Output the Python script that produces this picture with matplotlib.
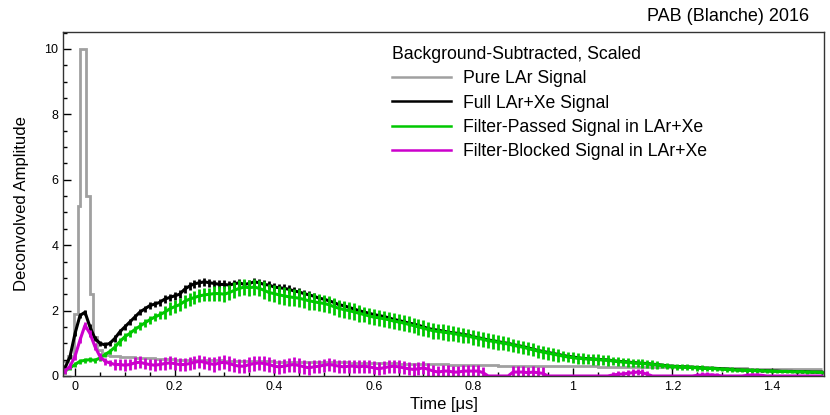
import numpy as np
import matplotlib
matplotlib.use('Agg')
import matplotlib.pyplot as plt
from matplotlib.lines import Line2D
from matplotlib.ticker import MultipleLocator, FuncFormatter

plt.rcParams['font.family'] = ['Liberation Sans', 'DejaVu Sans']

# time bins (us), one every 0.01 from -0.02 to 1.50
time_us = np.arange(153) * 0.01 - 0.02

# Full LAr+Xe signal
full_sig = [0.25, 0.6, 1.3, 1.85, 1.95, 1.5, 1.15, 1.0, 0.95, 1.0,
            1.15, 1.35, 1.5, 1.65, 1.8, 1.95, 2.05, 2.15, 2.2, 2.25,
            2.35, 2.4, 2.45, 2.5, 2.65, 2.75, 2.82, 2.85, 2.88, 2.85,
            2.83, 2.8, 2.8, 2.78, 2.82, 2.85, 2.8, 2.83, 2.88, 2.85,
            2.8, 2.78, 2.72, 2.7, 2.68, 2.65, 2.6, 2.57, 2.52, 2.48,
            2.44, 2.38, 2.35, 2.3, 2.25, 2.18, 2.15, 2.1, 2.05, 2.0,
            1.96, 1.92, 1.88, 1.85, 1.82, 1.78, 1.73, 1.7, 1.66, 1.62,
            1.59, 1.55, 1.5, 1.45, 1.42, 1.4, 1.37, 1.34, 1.32, 1.3,
            1.27, 1.25, 1.2, 1.17, 1.14, 1.1, 1.08, 1.05, 1.02, 1.0,
            0.96, 0.93, 0.9, 0.86, 0.82, 0.78, 0.75, 0.72, 0.69, 0.66,
            0.63, 0.6, 0.58, 0.56, 0.54, 0.53, 0.52, 0.51, 0.5, 0.49,
            0.47, 0.45, 0.44, 0.43, 0.41, 0.4, 0.39, 0.38, 0.36, 0.35,
            0.33, 0.31, 0.3, 0.29, 0.28, 0.28, 0.27, 0.26, 0.25, 0.24,
            0.24, 0.23, 0.22, 0.21, 0.2, 0.19, 0.18, 0.18, 0.17, 0.17,
            0.16, 0.16, 0.15, 0.15, 0.14, 0.14, 0.14, 0.13, 0.13, 0.13,
            0.12, 0.12, 0.12]

# Filter-passed signal
passed_sig = [0.15, 0.25, 0.35, 0.45, 0.48, 0.5, 0.48, 0.55, 0.65, 0.75,
              0.88, 1.05, 1.2, 1.3, 1.42, 1.52, 1.62, 1.72, 1.8, 1.87,
              1.95, 2.05, 2.12, 2.18, 2.28, 2.35, 2.4, 2.45, 2.48, 2.5,
              2.52, 2.52, 2.5, 2.55, 2.62, 2.68, 2.72, 2.7, 2.72, 2.68,
              2.62, 2.55, 2.52, 2.48, 2.45, 2.42, 2.4, 2.38, 2.34, 2.3,
              2.27, 2.24, 2.22, 2.18, 2.12, 2.07, 2.03, 2.0, 1.96, 1.92,
              1.88, 1.84, 1.8, 1.78, 1.75, 1.72, 1.68, 1.65, 1.62, 1.58,
              1.54, 1.5, 1.46, 1.42, 1.38, 1.36, 1.34, 1.32, 1.3, 1.27,
              1.24, 1.22, 1.18, 1.15, 1.12, 1.08, 1.06, 1.03, 1.0, 0.98,
              0.94, 0.91, 0.88, 0.84, 0.8, 0.76, 0.73, 0.7, 0.67, 0.64,
              0.61, 0.58, 0.56, 0.54, 0.53, 0.52, 0.51, 0.5, 0.49, 0.48,
              0.46, 0.44, 0.43, 0.42, 0.4, 0.39, 0.38, 0.37, 0.35, 0.34,
              0.32, 0.3, 0.29, 0.28, 0.27, 0.27, 0.26, 0.25, 0.24, 0.23,
              0.23, 0.22, 0.21, 0.2, 0.19, 0.18, 0.18, 0.17, 0.17, 0.16,
              0.16, 0.15, 0.15, 0.14, 0.14, 0.14, 0.13, 0.13, 0.13, 0.12,
              0.12, 0.12, 0.11]

# Filter-blocked signal (negative bins sit below the frame)
blocked_sig = [0.15, 0.3, 0.6, 1.1, 1.55, 1.3, 0.9, 0.6, 0.45, 0.4,
               0.35, 0.35, 0.33, 0.35, 0.4, 0.42, 0.38, 0.35, 0.33, 0.35,
               0.38, 0.4, 0.38, 0.35, 0.35, 0.38, 0.42, 0.45, 0.42, 0.38,
               0.35, 0.4, 0.42, 0.38, 0.33, 0.3, 0.3, 0.35, 0.38, 0.4,
               0.38, 0.35, 0.3, 0.28, 0.3, 0.33, 0.35, 0.32, 0.28, 0.25,
               0.28, 0.3, 0.33, 0.35, 0.33, 0.3, 0.28, 0.3, 0.3, 0.28,
               0.3, 0.28, 0.25, 0.22, 0.25, 0.28, 0.3, 0.28, 0.25, 0.22,
               0.2, 0.22, 0.25, 0.2, 0.15, 0.12, 0.15, 0.15, 0.12, 0.12,
               0.15, 0.15, 0.15, 0.15, 0.1, -0.05, -0.1, -0.1, -0.1, -0.1,
               0.12, 0.12, 0.12, 0.1, 0.12, 0.1, 0.08, -0.1, -0.1, -0.1,
               -0.1, -0.1, -0.1, -0.1, -0.1, -0.1, -0.1, -0.1, -0.1, -0.1,
               0.03, 0.05, 0.06, 0.08, 0.1, 0.12, 0.1, 0.05, -0.1, -0.1,
               -0.1, -0.1, -0.1, -0.1, -0.1, -0.1, -0.1, 0.02, 0.03, 0.04,
               0.03, 0.02, -0.1, -0.1, -0.1, -0.1, -0.1, 0.02, 0.03, 0.03,
               0.02, -0.1, -0.1, -0.1, -0.1, -0.1, -0.1, -0.1, -0.1, -0.1,
               -0.1, -0.1, -0.1]

# error bar half-heights, one value per 0.1 us block
full_err = [0.08, 0.1, 0.12, 0.12, 0.12, 0.1, 0.08, 0.07, 0.06, 0.06,
            0.05, 0.04, 0.04, 0.03, 0.03, 0.03]
passed_err = [0.08, 0.12, 0.2, 0.24, 0.27, 0.26, 0.24, 0.24, 0.22, 0.2,
              0.16, 0.13, 0.09, 0.07, 0.05, 0.04]
blocked_err = [0.1, 0.18, 0.2, 0.22, 0.22, 0.2, 0.2, 0.2, 0.18, 0.18,
               0.1, 0.1, 0.08, 0.06, 0.05, 0.05]

# Pure LAr signal, variable bins (left edges), last edge 1.5
lar_t = [-0.025, -0.015, -0.003, 0.005, 0.010, 0.023, 0.031, 0.037, 0.045,
         0.055, 0.07, 0.09, 0.12, 0.16, 0.2, 0.25, 0.3, 0.35, 0.4, 0.45,
         0.5, 0.55, 0.6, 0.65, 0.7, 0.75, 0.8, 0.85, 0.9, 0.95, 1.0, 1.05,
         1.1, 1.15, 1.2, 1.25, 1.3, 1.35, 1.4, 1.45]
lar_sig = [0.45, 0.6, 1.9, 5.2, 10.0, 5.5, 2.5, 1.2, 0.8, 0.65, 0.6, 0.58,
           0.55, 0.52, 0.5, 0.48, 0.46, 0.45, 0.44, 0.43, 0.42, 0.41, 0.4,
           0.38, 0.36, 0.34, 0.33, 0.32, 0.31, 0.3, 0.3, 0.29, 0.28, 0.27,
           0.26, 0.25, 0.23, 0.22, 0.21, 0.2]

c_grey = '#a0a0a0'
c_green = '#00c800'
c_mag = '#cc00cc'

fig = plt.figure(figsize=(8.3, 4.15), dpi=100)
ax = fig.add_axes([0.076, 0.094, 0.917, 0.829])


def block_err(errs):
    idx = np.minimum(np.arange(len(time_us)) // 10, len(errs) - 1)
    return np.array(errs)[idx]


def draw_hist(vals, errs, color):
    v = np.array(vals)
    e = block_err(errs)
    e = np.where(v > 0, e, 0)
    ax.plot(time_us, np.maximum(v, 0), color=color, lw=2.2)
    ax.vlines(time_us, v - e, v + e, color=color, lw=2.0)


# pure LAr as a step histogram
edges = np.append(lar_t, 1.5)
ax.stairs(lar_sig, edges, color=c_grey, lw=2.0, baseline=None)

draw_hist(full_sig, full_err, 'black')
draw_hist(passed_sig, passed_err, c_green)
draw_hist(blocked_sig, blocked_err, c_mag)

ax.set_xlim(-0.024, 1.505)
ax.set_ylim(0, 10.52)

ax.xaxis.set_major_locator(MultipleLocator(0.2))
ax.xaxis.set_minor_locator(MultipleLocator(0.05))
ax.yaxis.set_major_locator(MultipleLocator(2))
ax.yaxis.set_minor_locator(MultipleLocator(0.5))
ax.xaxis.set_major_formatter(FuncFormatter(lambda x, p: '%g' % round(x, 2)))
ax.tick_params(which='both', direction='in', top=False, right=False,
               labelsize=9, width=1)
ax.tick_params(which='major', length=6)
ax.tick_params(which='minor', length=3)
for s in ax.spines.values():
    s.set_linewidth(1)
    s.set_color('#333333')

ax.set_xlabel('Time [\u03bcs]', fontsize=12, labelpad=3)
ax.set_ylabel('Deconvolved Amplitude', fontsize=12, labelpad=11)
fig.text(0.975, 0.94, 'PAB (Blanche) 2016', ha='right', va='bottom',
         fontsize=13)

handles = [Line2D([], [], color=c_grey, lw=1.8),
           Line2D([], [], color='black', lw=1.8),
           Line2D([], [], color=c_green, lw=1.8),
           Line2D([], [], color=c_mag, lw=1.8)]
labels = ['Pure LAr Signal', 'Full LAr+Xe Signal',
          'Filter-Passed Signal in LAr+Xe', 'Filter-Blocked Signal in LAr+Xe']
leg = ax.legend(handles, labels, title='Background-Subtracted, Scaled',
                loc='upper left', bbox_to_anchor=(0.432, 0.96),
                frameon=False, fontsize=12.7, title_fontsize=12.7,
                alignment='left', borderpad=0, borderaxespad=0,
                handlelength=3.35, handletextpad=0.68, labelspacing=0.42)

fig.savefig('out.png', dpi=100)
